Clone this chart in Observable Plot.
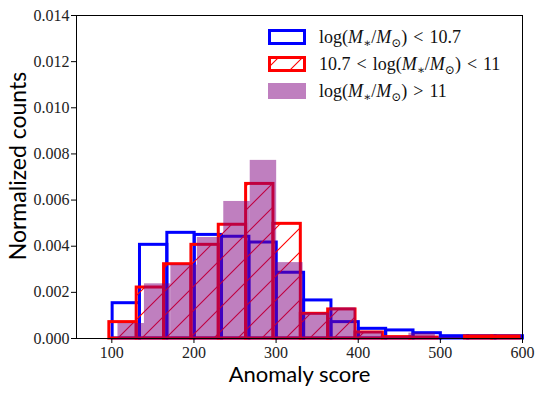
<!DOCTYPE html>
<html><head><meta charset="utf-8">
<script src="https://cdn.jsdelivr.net/npm/d3@7"></script>
<script src="https://cdn.jsdelivr.net/npm/@observablehq/plot@0.6"></script>
<style>body{margin:0;background:#fff} #chart{width:540px;height:393px}</style>
</head><body>
<div id="chart"></div>
<script>
// Bin edges (anomaly score) for each mass bin
const blueEdges = [101, 134.3, 167.6, 200.9, 234.2, 267.5, 300.8, 334.1, 367.4, 400.7, 434, 467.3, 500.6, 533.9, 567.2, 600.5];
const redEdges = [97, 130.3, 163.6, 196.9, 230.2, 263.5, 296.8, 330.1, 363.4, 396.7, 430, 463.3, 496.6, 529.9, 563.2, 596.5];
const purpleEdges = [107.5, 139.7, 171.9, 204.1, 236.3, 268.5, 300.7, 332.9, 365.1, 397.3, 429.5, 461.7, 493.9, 526.1, 558.3, 590.5];
// Normalized counts
const blueCounts = [0.00153, 0.00406, 0.00458, 0.00449, 0.00441, 0.00416, 0.00285, 0.00165, 0.00071, 0.00042, 0.00035, 0.00023, 0.0001, 0.0001, 0.0001];
const redCounts = [0.00071, 0.00221, 0.00322, 0.00406, 0.00493, 0.0067, 0.00497, 0.00107, 0.00126, 0.00026, 0.00006, 0.00004, 0, 0.00009, 0.00009];
const purpleCounts = [0.00065, 0.00237, 0.00318, 0.00438, 0.00594, 0.00772, 0.00329, 0.0011, 0.00133, 0.0003, 0.00008, 0.00023, 0.00005, 0, 0];
const xTicks = [100, 200, 300, 400, 500, 600];
const yTicks = [0, 0.002, 0.004, 0.006, 0.008, 0.010, 0.012, 0.014];
const xLabel = "Anomaly score";
const yLabel = "Normalized counts";

const toBins = (edges, counts) => counts.map((c, i) => ({x1: edges[i], x2: edges[i + 1], y: c}));
const blueBins = toBins(blueEdges, blueCounts);
const redBins = toBins(redEdges, redCounts);
const purpleBins = toBins(purpleEdges, purpleCounts);

const serif = "'Liberation Serif', 'DejaVu Serif', serif";
const sans = "Lato, 'Open Sans', sans-serif";

const plot = Plot.plot({
  width: 540, height: 393,
  marginLeft: 76, marginRight: 18, marginTop: 15, marginBottom: 55,
  x: {domain: [57, 600]},
  y: {domain: [0, 0.014]},
  style: {fontFamily: serif, background: "white", color: "#222"},
  marks: [
    Plot.rect(blueBins, {x1: "x1", x2: "x2", y1: 0, y2: "y", fill: "none", stroke: "#0000ff", strokeWidth: 3}),
    Plot.rect(redBins, {x1: "x1", x2: "x2", y1: 0, y2: "y", fill: "url(#hatch)", stroke: "#ff0000", strokeWidth: 3}),
    Plot.rect(purpleBins, {x1: "x1", x2: "x2", y1: 0, y2: "y", fill: "#800080", fillOpacity: 0.5}),
    Plot.frame({stroke: "#000", strokeWidth: 1}),
    Plot.axisX({ticks: xTicks, tickSize: 5, tickPadding: 3, fontSize: 16, label: null, stroke: "#000"}),
    Plot.axisY({ticks: yTicks, tickFormat: d3.format(".3f"), tickSize: 5, tickPadding: 2, fontSize: 16, label: null, stroke: "#000"}),
    Plot.text([xLabel], {frameAnchor: "bottom", dy: 43, fontSize: 22, fontFamily: sans, fill: "#000", textAnchor: "middle"}),
    Plot.text([yLabel], {frameAnchor: "left", dx: -58, dy: -11, rotate: -90, fontSize: 23, fontFamily: sans, fill: "#000", textAnchor: "middle"})
  ]
});

const svg = d3.select(plot);
// Hatch pattern for the middle mass bin
const pat = svg.insert("defs", ":first-child").append("pattern")
  .attr("id", "hatch").attr("patternUnits", "userSpaceOnUse").attr("width", 24).attr("height", 24);
pat.append("path").attr("d", "M-4,4 L4,-4 M0,24 L24,0 M20,28 L28,20")
  .attr("fill", "none").style("stroke", "#ff0000").style("stroke-width", "1.1px");

// Legend
const legendRows = [
  {swatch: {fill: "none", stroke: "#0000ff"}, parts: [["log(", "n"], ["M", "i"], ["∗", "sub"], ["/", "n"], ["M", "i"], ["⊙", "sub"], [") < 10.7", "n"]]},
  {swatch: {fill: "url(#hatch)", stroke: "#ff0000"}, parts: [["10.7 < log(", "n"], ["M", "i"], ["∗", "sub"], ["/", "n"], ["M", "i"], ["⊙", "sub"], [") < 11", "n"]]},
  {swatch: {fill: "#800080", opacity: 0.5, stroke: "none"}, parts: [["log(", "n"], ["M", "i"], ["∗", "sub"], ["/", "n"], ["M", "i"], ["⊙", "sub"], [") > 11", "n"]]}
];
const lg = svg.append("g").attr("font-family", serif).attr("font-size", 18).attr("fill", "#111").attr("text-anchor", "start");
legendRows.forEach((r, i) => {
  const cy = 37 + i * 27;
  const rect = lg.append("rect").attr("x", 269.5).attr("y", cy - 6.5).attr("width", 35).attr("height", 13)
    .attr("fill", r.swatch.fill).attr("stroke", r.swatch.stroke).attr("stroke-width", 3);
  if (r.swatch.opacity) rect.attr("fill-opacity", r.swatch.opacity).attr("x", 268).attr("y", cy - 8).attr("width", 38).attr("height", 16);
  const t = lg.append("text").attr("x", 319).attr("y", cy + 6).attr("text-anchor", "start");
  r.parts.forEach(([s, k], j) => {
    const ts = t.append("tspan").text(s.replace(/ /g, "\u2004"));
    if (k === "i") ts.attr("font-style", "italic");
    if (k === "sub") ts.attr("font-size", 12).attr("dy", 4);
    else if (j > 0 && r.parts[j - 1][1] === "sub") ts.attr("dy", -4);
  });
});

document.getElementById("chart").appendChild(plot);
</script>
</body></html>
